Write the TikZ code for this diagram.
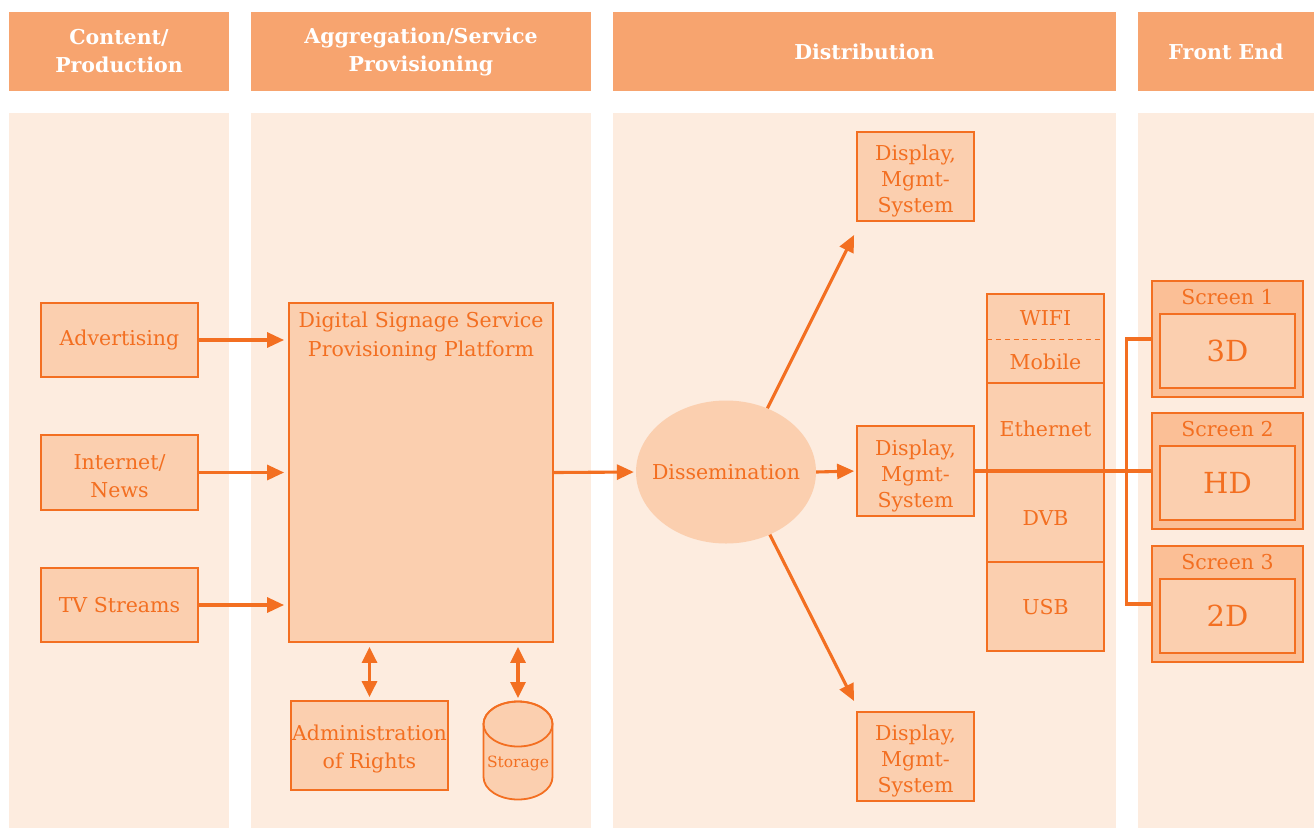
\documentclass[tikz,border=0pt]{standalone}
\usepackage{fontspec}
\setmainfont{DejaVu Serif}
\usetikzlibrary{arrows.meta,shapes.geometric,calc}

\definecolor{hdr}{HTML}{F7A46F}
\definecolor{colbg}{HTML}{FDECDF}
\definecolor{boxfill}{HTML}{FBCFAF}
\definecolor{scrfill}{HTML}{FBBF96}
\definecolor{ink}{HTML}{F36F21}

\begin{document}
\begin{tikzpicture}[x=1pt,y=-1pt,
  hdrbox/.style={fill=hdr, draw=none, text=white, font=\bfseries\fontsize{20.5}{28}\selectfont, align=center, inner sep=0},
  box/.style={draw=ink, line width=1.8pt, fill=boxfill, text=ink, font=\fontsize{20.5}{28}\selectfont, align=center, inner sep=0},
  scrbox/.style={draw=ink, line width=1.8pt, fill=scrfill, inner sep=0},
  lbl/.style={text=ink, font=\fontsize{20.5}{28}\selectfont, align=center, inner sep=0},
  conn/.style={draw=ink, line width=3.1pt},
  tip/.style={-{Triangle[length=17pt,width=15pt]}},
  dtip/.style={{Triangle[length=16pt,width=15pt]}-{Triangle[length=16pt,width=15pt]}},
  sep/.style={draw=ink, line width=1.8pt}
]
\useasboundingbox (0,0) rectangle (1314,828);
\fill[white] (0,0) rectangle (1314,828);

% column bands
\fill[colbg] (9,113) rectangle (229,828);
\fill[colbg] (251,113) rectangle (591,828);
\fill[colbg] (613,113) rectangle (1116,828);
\fill[colbg] (1138,113) rectangle (1314,828);

% column headers
\node[hdrbox, minimum width=220pt, minimum height=79pt] (h1) at (119,51.5) {Content/\\Production};
\node[hdrbox, minimum width=340pt, minimum height=79pt] (h2) at (421,51.5) {Aggregation/Service\\Provisioning};
\node[hdrbox, minimum width=503pt, minimum height=79pt] (h3) at (864.5,51.5) {Distribution};
\node[hdrbox, minimum width=176pt, minimum height=79pt] (h4) at (1226,51.5) {Front End};

% content sources
\node[box, minimum width=157pt, minimum height=74pt] (adv) at (119.5,340) {Advertising};
\node[box, minimum width=157pt, minimum height=75pt] (net) at (119.5,472.5) {};
\node[lbl] (netlab) at (119.5,476) {Internet/\\News};
\node[box, minimum width=157pt, minimum height=74pt] (tv) at (119.5,605) {TV Streams};

% provisioning platform
\node[box, minimum width=264pt, minimum height=339pt] (plat) at (421,472.5) {};
\node[lbl, anchor=north, font=\fontsize{20.5}{29}\selectfont] (platlab) at (421,312) {Digital Signage Service\\Provisioning Platform};

% administration and storage
\node[box, minimum width=157pt, minimum height=89pt] (adm) at (369.5,745.5) {};
\node[lbl] (admlab) at (369.5,749) {Administration\\of Rights};
\fill[boxfill, draw=ink, line width=1.8pt]
  (483.5,724) -- (483.5,777) arc[start angle=180, end angle=0, x radius=34.5, y radius=22.5]
  -- (552.5,724) arc[start angle=0, end angle=-180, x radius=34.5, y radius=22.5] -- cycle;
\draw[ink, line width=1.8pt] (518,724) ellipse[x radius=34.5, y radius=22.5];
\coordinate (stor) at (518,701);
\node[text=ink, font=\fontsize{15.5}{18}\selectfont, inner sep=0] (storlab) at (518,763) {Storage};

% dissemination
\node[ellipse, fill=boxfill, minimum width=180pt, minimum height=143pt, inner sep=0] (dis) at (726,472) {};
\node[lbl] (dislab) at (726,472) {Dissemination};

% display management systems
\node[box, minimum width=117pt, minimum height=89pt] (d1) at (915.5,176.5) {};
\node[lbl, font=\fontsize{20.5}{26}\selectfont] (d1lab) at (915.5,181) {Display,\\Mgmt-\\System};
\node[box, minimum width=117pt, minimum height=90pt] (d2) at (915.5,471) {};
\node[lbl, font=\fontsize{20.5}{26}\selectfont] (d2lab) at (915.5,475.5) {Display,\\Mgmt-\\System};
\node[box, minimum width=117pt, minimum height=89pt] (d3) at (915.5,756.5) {};
\node[lbl, font=\fontsize{20.5}{26}\selectfont] (d3lab) at (915.5,761) {Display,\\Mgmt-\\System};

% transmission stack
\node[box, minimum width=117pt, minimum height=357pt] (stk) at (1045.5,472.5) {};
\node[lbl, minimum width=117pt, minimum height=45pt] (wifi) at (1045.5,316.5) {};
\node[lbl] (wifilab) at (1045.5,318) {WIFI};
\node[lbl, minimum width=117pt, minimum height=44pt] (mob) at (1045.5,361) {};
\node[lbl] (moblab) at (1045.5,362) {Mobile};
\node[lbl, minimum width=117pt, minimum height=89pt] (eth) at (1045.5,427.5) {};
\node[lbl] (ethlab) at (1045.5,429) {Ethernet};
\node[lbl, minimum width=117pt, minimum height=90pt] (dvb) at (1045.5,517) {};
\node[lbl] (dvblab) at (1045.5,518) {DVB};
\node[lbl, minimum width=117pt, minimum height=89pt] (usb) at (1045.5,606.5) {};
\node[lbl] (usblab) at (1045.5,607.5) {USB};
\draw[sep, line width=1.4pt, dash pattern=on 5pt off 4pt] (wifi.south west) -- (wifi.south east);
\draw[sep] (mob.south west) -- (mob.south east);
\draw[sep] (eth.south west) -- (eth.south east);
\draw[sep] (dvb.south west) -- (dvb.south east);

% screens
\tikzset{scrin/.style={box, minimum width=135pt, minimum height=74pt, font=\fontsize{29}{30}\selectfont}}
\node[scrbox, minimum width=151pt, minimum height=116pt] (s1) at (1227.5,339) {};
\node[scrin] (s1in) at (1227.5,351) {3D};
\node[lbl] (s1lab) at (1227.5,297) {Screen 1};
\node[scrbox, minimum width=151pt, minimum height=116pt] (s2) at (1227.5,471) {};
\node[scrin] (s2in) at (1227.5,483) {HD};
\node[lbl] (s2lab) at (1227.5,429) {Screen 2};
\node[scrbox, minimum width=151pt, minimum height=116pt] (s3) at (1227.5,604) {};
\node[scrin] (s3in) at (1227.5,616) {2D};
\node[lbl] (s3lab) at (1227.5,562) {Screen 3};

% connectors
\draw[conn, tip, shorten >=4pt] (adv.east) -- (adv.east -| plat.west);
\draw[conn, tip, shorten >=4pt] (net.east) -- (net.east -| plat.west);
\draw[conn, tip, shorten >=4pt] (tv.east) -- (tv.east -| plat.west);
\draw[conn, tip, shorten >=2pt] (plat.east) -- (dis.west);
\draw[conn, dtip, shorten <=4pt, shorten >=3pt] (plat.south -| adm.north) -- (adm.north);
\draw[conn, dtip, shorten <=4pt, shorten >=3pt] (plat.south -| stor) -- (stor);
\draw[conn, tip, shorten >=2pt] (dis.east) -- (d2.west);
\draw[conn, tip] (dis.57) -- ($(d1.south west)+(-2,13)$);
\draw[conn, tip] (dis.-55) -- ($(d3.north west)+(-2,-10)$);
\draw[conn] (d2.east) -- (d2.east -| s2.west);
\draw[conn] (s1.west) -- ++(-25,0) |- (s3.west);
\end{tikzpicture}
\end{document}
